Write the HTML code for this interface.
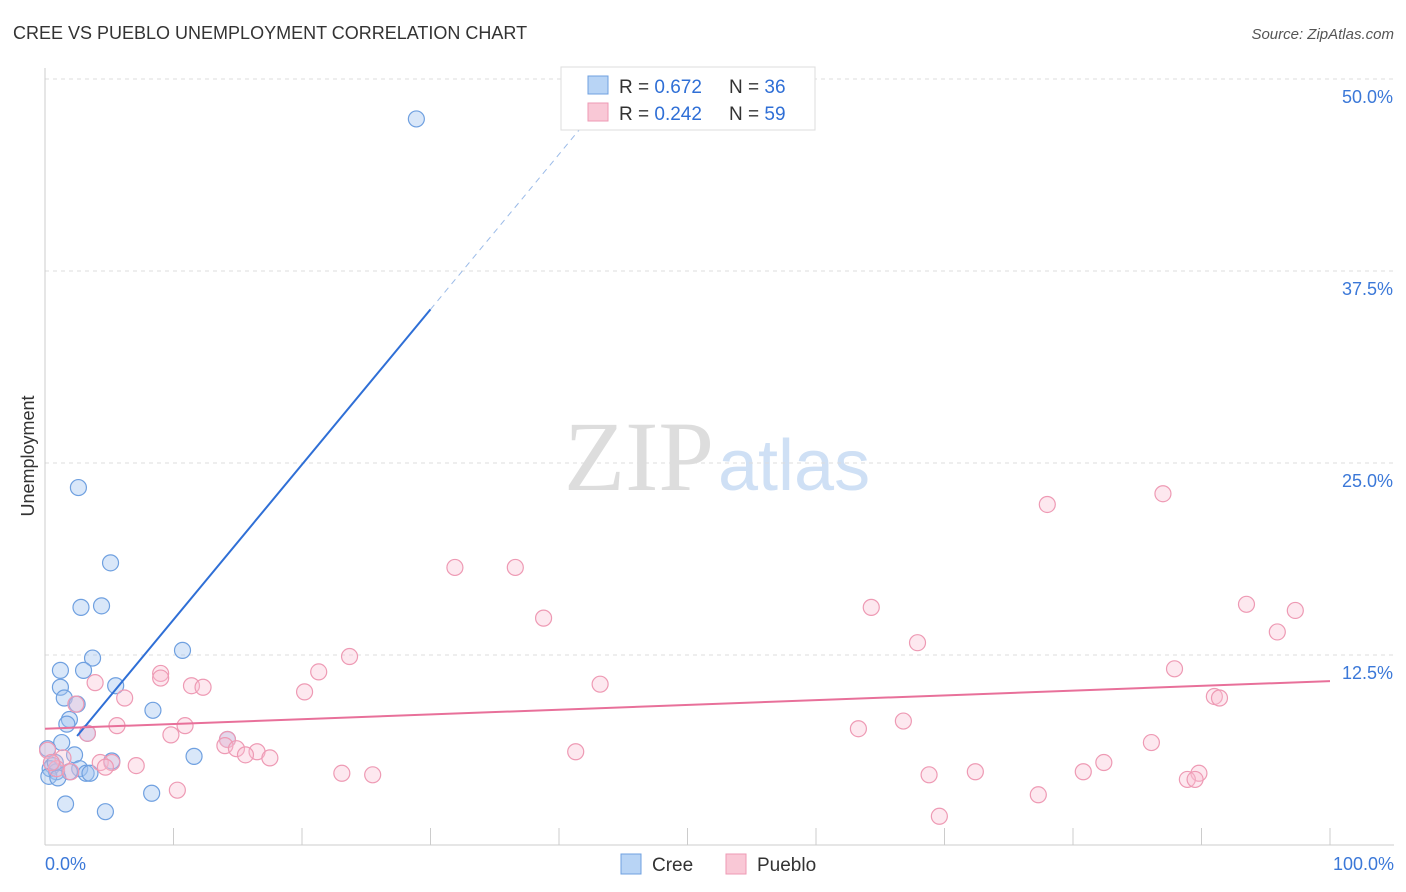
<!DOCTYPE html>
<html><head><meta charset="utf-8"><style>
body{margin:0;background:#fff;font-family:"Liberation Sans",sans-serif}
svg{display:block}
</style></head><body>
<svg id="chart" width="1406" height="892">
<text x="13" y="39" font-size="18" fill="#333">CREE VS PUEBLO UNEMPLOYMENT CORRELATION CHART</text>
<text x="1394" y="39" font-size="15" fill="#555" text-anchor="end" font-style="italic">Source: ZipAtlas.com</text>
<text x="714" y="490" font-size="100" fill="#ddd" text-anchor="end" font-family="Liberation Serif">ZIP</text>
<text x="718" y="490" font-size="72" fill="#cfe0f5">atlas</text>
<text transform="translate(34,456) rotate(-90)" font-size="18" fill="#333" text-anchor="middle">Unemployment</text>
<g id="grid"></g><g id="marks"></g>
<g>
<rect x="561" y="67" width="254" height="63" fill="#fff" stroke="#ddd"/>
<rect x="588" y="76" width="20" height="18" fill="#b8d4f5" stroke="#6fa0e0"/>
<text x="619" y="93" font-size="19" fill="#333">R = <tspan fill="#2f6fd6">0.672</tspan></text>
<text x="729" y="93" font-size="19" fill="#333">N = <tspan fill="#2f6fd6">36</tspan></text>
<rect x="588" y="103" width="20" height="18" fill="#f9c8d6" stroke="#ee9ab4"/>
<text x="619" y="120" font-size="19" fill="#333">R = <tspan fill="#2f6fd6">0.242</tspan></text>
<text x="729" y="120" font-size="19" fill="#333">N = <tspan fill="#2f6fd6">59</tspan></text>
</g>
<g>
<rect x="621" y="854" width="20" height="20" fill="#b8d4f5" stroke="#6fa0e0"/>
<text x="652" y="871" font-size="19" fill="#333">Cree</text>
<rect x="726" y="854" width="20" height="20" fill="#f9c8d6" stroke="#ee9ab4"/>
<text x="757" y="871" font-size="19" fill="#333">Pueblo</text>
</g>
</svg>
<script>
const yTicks=[12.5,25,37.5,50];
const yTickLabels=["12.5%","25.0%","37.5%","50.0%"];
const xEndLabels=["0.0%","100.0%"];
const creeX=[28.9,2.6,5.1,2.8,4.4,10.7,3.7,1.2,3.0,1.2,5.5,1.5,2.5,8.4,1.9,1.7,3.3,1.3,0.2,2.3,11.6,5.2,0.6,0.4,2.7,1.9,3.2,3.5,0.9,0.3,1.0,8.3,1.6,4.7,14.2,0.8];
const creeY=[47.4,23.4,18.5,15.6,15.7,12.8,12.3,11.5,11.5,10.4,10.5,9.7,9.3,8.9,8.3,8.0,7.4,6.8,6.4,6.0,5.9,5.6,5.3,5.1,5.1,4.9,4.8,4.8,4.9,4.6,4.5,3.5,2.8,2.3,7.0,5.5];
const puebloX=[78.0,87.0,31.9,36.6,38.8,64.3,93.5,97.3,95.9,67.9,23.7,87.9,21.3,9.0,9.0,3.9,43.2,11.4,12.3,20.2,6.2,91.0,91.4,2.4,5.6,10.9,66.8,63.3,9.8,3.3,14.2,86.1,14.0,14.9,41.3,16.5,15.6,17.5,1.4,4.3,5.2,82.4,7.1,4.7,0.9,72.4,80.8,23.1,68.8,25.5,89.8,88.9,89.5,2.0,10.3,77.3,69.6,0.2,0.5];
const puebloY=[22.3,23.0,18.2,18.2,14.9,15.6,15.8,15.4,14.0,13.3,12.4,11.6,11.4,11.3,11.0,10.7,10.6,10.5,10.4,10.1,9.7,9.8,9.7,9.3,7.9,7.9,8.2,7.7,7.3,7.4,7.0,6.8,6.6,6.4,6.2,6.2,6.0,5.8,5.8,5.5,5.5,5.5,5.3,5.2,5.1,4.9,4.9,4.8,4.7,4.7,4.8,4.4,4.4,4.9,3.7,3.4,2.0,6.3,5.5];
const creeTrend=[4.7,1.01];const puebloTrend=[7.7,0.031];
const X=v=>45+v*12.85, Y=v=>847-v*15.36;
const NS='http://www.w3.org/2000/svg';
function mk(tag,attrs,parent){const e=document.createElementNS(NS,tag);for(const k in attrs)e.setAttribute(k,attrs[k]);parent.appendChild(e);return e;}
const g=document.getElementById('grid'),m=document.getElementById('marks');
yTicks.forEach((t,i)=>{
 const l=mk('line',{x1:45,x2:1394,y1:Y(t),y2:Y(t),stroke:'#ddd','stroke-dasharray':'4,4'},g);
 
 
 const tx=mk('text',{x:1393,y:Y(t)+24,'font-size':18,fill:'#3b78d8','text-anchor':'end'},g);tx.textContent=yTickLabels[i];
 
 
});
const ax=mk('line',{x1:45,x2:1394,y1:845,y2:845,stroke:'#ccc'},g);


const ay=mk('line',{x1:45,x2:45,y1:68,y2:845,stroke:'#ccc'},g);


for(let i=0;i<=10;i++){const t=mk('line',{x1:X(i*10),x2:X(i*10),y1:828,y2:845,stroke:'#ccc'},g);
 
 }
[[0,'start',45],[100,'end',1394]].forEach((d,i)=>{const t=mk('text',{x:d[2],y:870,'font-size':18,fill:'#3b78d8','text-anchor':d[1]},g);t.textContent=xEndLabels[i];
 
 });
creeX.forEach((x,i)=>{const c=mk('circle',{cx:X(x),cy:Y(creeY[i]),r:8,fill:'rgba(160,196,240,0.4)',stroke:'#6fa0e0','stroke-width':1.2},m);
 
 });
puebloX.forEach((x,i)=>{const c=mk('circle',{cx:X(x),cy:Y(puebloY[i]),r:8,fill:'rgba(248,190,208,0.35)',stroke:'#ee9ab4','stroke-width':1.2},m);
 
 });
const cf=x=>creeTrend[0]+creeTrend[1]*x, pf=x=>puebloTrend[0]+puebloTrend[1]*x;
const l1=mk('line',{x1:X(2.5),y1:Y(cf(2.5)),x2:X(30),y2:Y(cf(30)),stroke:'#2f6fd6','stroke-width':2},m);


const l2=mk('line',{x1:X(30),y1:Y(cf(30)),x2:X(41.8),y2:Y(cf(41.8)),stroke:'#9bbbe8','stroke-width':1,'stroke-dasharray':'6,5'},m);


const l3=mk('line',{x1:X(0),y1:Y(pf(0)),x2:X(100),y2:Y(pf(100)),stroke:'#e8709a','stroke-width':2},m);


</script>
</body></html>
